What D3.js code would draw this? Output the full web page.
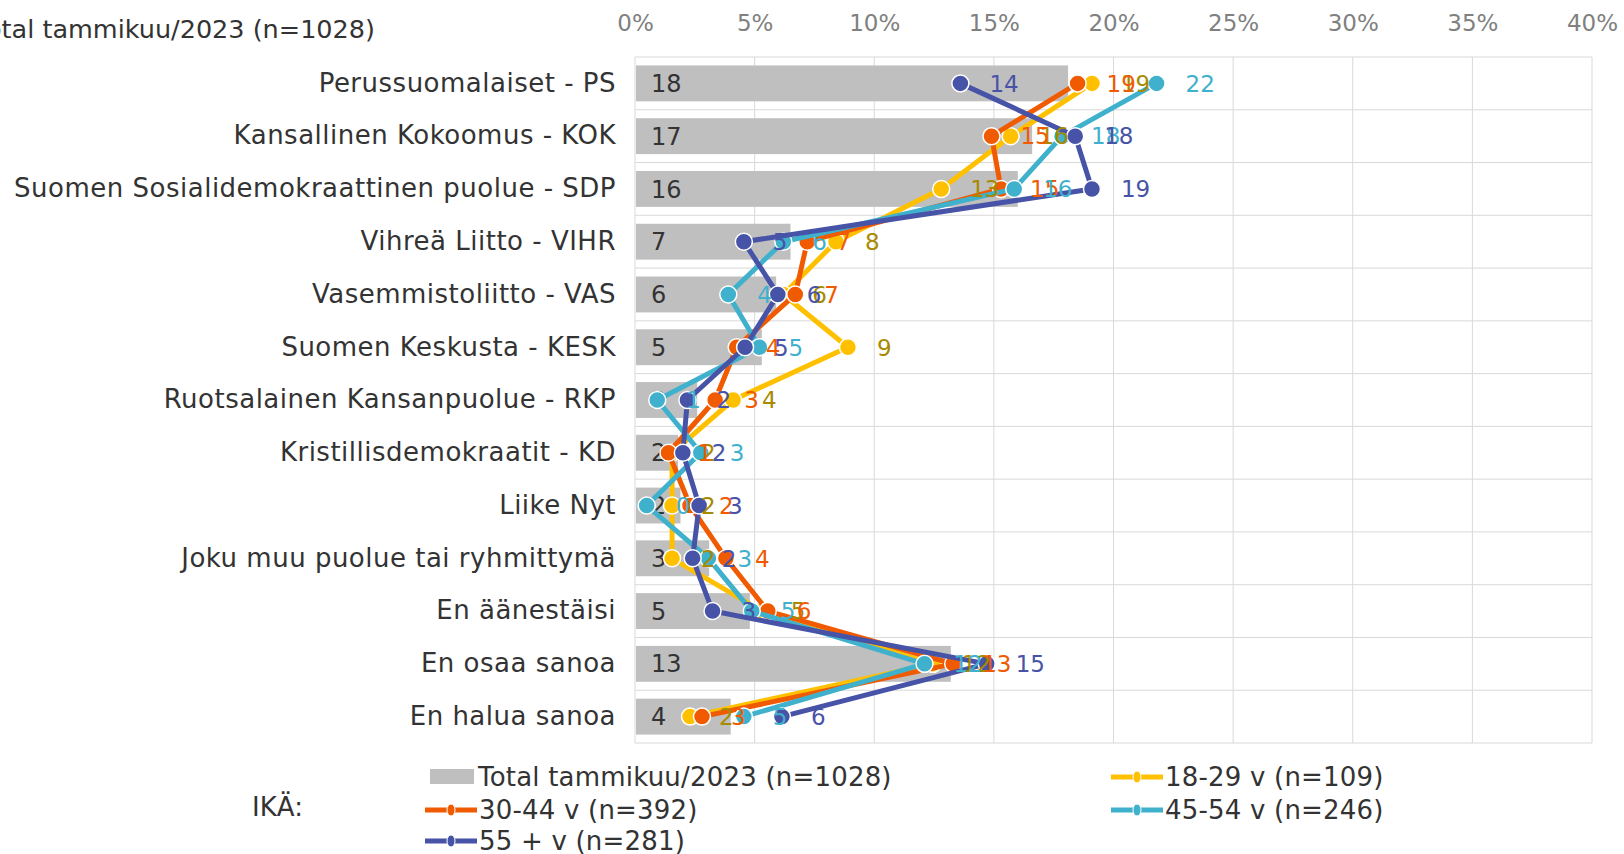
<!DOCTYPE html>
<html lang="fi">
<head>
    <meta charset="UTF-8">
    <title>Puoluekannatus iän mukaan</title>
    <style>
        body { margin: 0; background: #fff; }
        svg { display: block; font-family: "DejaVu Sans", Verdana, sans-serif; }
    </style>
    <script src="https://d3js.org/d3.v7.min.js"></script>
</head>
<body>
<script>
    // Data (percent)
    const categories = [
        "Perussuomalaiset - PS",
        "Kansallinen Kokoomus - KOK",
        "Suomen Sosialidemokraattinen puolue - SDP",
        "Vihreä Liitto - VIHR",
        "Vasemmistoliitto - VAS",
        "Suomen Keskusta - KESK",
        "Ruotsalainen Kansanpuolue - RKP",
        "Kristillisdemokraatit - KD",
        "Liike Nyt",
        "Joku muu puolue tai ryhmittymä",
        "En äänestäisi",
        "En osaa sanoa",
        "En halua sanoa"
    ];
    const total = [18.1, 16.6, 16.0, 6.5, 5.9, 5.3, 2.6, 1.8, 1.9, 3.1, 4.8, 13.2, 4.0];
    const age1829 = [19.1, 15.7, 12.8, 8.4, 6.2, 8.9, 4.1, 1.55, 1.55, 1.55, 5.3, 12.45, 2.3];
    const age3044 = [18.5, 14.9, 15.3, 7.2, 6.7, 4.25, 3.35, 1.4, 2.3, 3.8, 5.55, 13.3, 2.8];
    const age4554 = [21.8, 17.85, 15.85, 6.2, 3.9, 5.2, 0.93, 2.75, 0.49, 3.07, 4.88, 12.1, 4.55];
    const age55 = [13.6, 18.4, 19.1, 4.55, 5.97, 4.6, 2.19, 2.0, 2.68, 2.41, 3.24, 14.7, 6.14];
    const ticks = [0, 5, 10, 15, 20, 25, 30, 35, 40];

    const barName = "Total tammikuu/2023 (n=1028)";
    const series = [
        { name: "18-29 v (n=109)", values: age1829, color: "#FFC000", label: "#A88A00" },
        { name: "30-44 v (n=392)", values: age3044, color: "#F05A00", label: "#F05A00" },
        { name: "45-54 v (n=246)", values: age4554, color: "#3FB1CD", label: "#3FB1CD" },
        { name: "55 + v (n=281)", values: age55, color: "#4753A7", label: "#4753A7" }
    ];

    const width = 1624, height = 854;
    const margin = { top: 57, right: 32, bottom: 111, left: 635 };

    const svg = d3.select("body").append("svg")
        .attr("width", width)
        .attr("height", height);

    const x = d3.scaleLinear()
        .domain([0, 40])
        .range([margin.left, width - margin.right]);

    const y = d3.scaleBand()
        .domain(categories)
        .range([margin.top, height - margin.bottom]);

    // gridlines
    svg.append("g")
        .selectAll("line")
        .data(ticks)
        .enter().append("line")
        .attr("x1", d => x(d)).attr("x2", d => x(d))
        .attr("y1", margin.top).attr("y2", height - margin.bottom)
        .attr("stroke", "#D9D9D9").attr("stroke-width", 1);

    svg.append("g")
        .selectAll("line")
        .data(d3.range(categories.length + 1))
        .enter().append("line")
        .attr("x1", x(0)).attr("x2", x(40))
        .attr("y1", i => margin.top + i * y.step())
        .attr("y2", i => margin.top + i * y.step())
        .attr("stroke", "#D9D9D9").attr("stroke-width", 1);

    // top axis
    const xAxis = svg.append("g")
        .attr("transform", `translate(0,${margin.top})`)
        .call(d3.axisTop(x).tickValues(ticks).tickFormat(d => d + "%").tickSize(0).tickPadding(26));
    xAxis.select(".domain").remove();
    xAxis.selectAll("text")
        .attr("fill", "#808080")
        .attr("font-size", "23px")
        .attr("font-family", "DejaVu Sans, Verdana, sans-serif");

    // category axis
    const yAxis = svg.append("g")
        .attr("transform", `translate(${margin.left},0)`)
        .call(d3.axisLeft(y).tickSize(0).tickPadding(19));
    yAxis.select(".domain").remove();
    yAxis.selectAll("text")
        .attr("fill", "#333")
        .attr("font-size", "26px")
        .attr("letter-spacing", "0.5px")
        .attr("font-family", "DejaVu Sans, Verdana, sans-serif");

    // bars
    const barH = y.bandwidth() * 0.68;
    svg.append("g")
        .selectAll("rect")
        .data(total)
        .enter().append("rect")
        .attr("x", x(0) + 1)
        .attr("y", (d, i) => y(categories[i]) + (y.bandwidth() - barH) / 2)
        .attr("width", d => x(d) - x(0) - 1)
        .attr("height", barH)
        .attr("fill", "#BFBFBF");

    svg.append("g")
        .selectAll("text")
        .data(total)
        .enter().append("text")
        .attr("x", x(0) + 16)
        .attr("y", (d, i) => y(categories[i]) + y.bandwidth() / 2)
        .attr("dy", "0.36em")
        .attr("font-size", "24px")
        .attr("fill", "#333")
        .text(d => Math.round(d));

    const cy = i => y(categories[i]) + y.bandwidth() / 2;
    const line = d3.line()
        .x(d => x(d))
        .y((d, i) => cy(i));

    series.forEach(s => {
        const g = svg.append("g");
        g.append("path")
            .datum(s.values)
            .attr("fill", "none")
            .attr("stroke", s.color)
            .attr("stroke-width", 5)
            .attr("stroke-linejoin", "round")
            .attr("d", line);
        g.selectAll("circle")
            .data(s.values)
            .enter().append("circle")
            .attr("cx", d => x(d))
            .attr("cy", (d, i) => cy(i))
            .attr("r", 8.5)
            .attr("fill", s.color)
            .attr("stroke", "#fff")
            .attr("stroke-width", 1.5);
    });

    series.forEach(s => {
        svg.append("g")
            .selectAll("text")
            .data(s.values)
            .enter().append("text")
            .attr("x", d => x(d) + 29)
            .attr("y", (d, i) => cy(i))
            .attr("dy", "0.36em")
            .attr("font-size", "23px")
            .attr("fill", s.label)
            .text(d => Math.round(d));
    });

    // title (partly cut off at the left edge)
    svg.append("text")
        .attr("x", 375)
        .attr("y", 29)
        .attr("dy", "0.36em")
        .attr("text-anchor", "end")
        .attr("font-size", "25.5px")
        .attr("fill", "#333")
        .text("Total tammikuu/2023  (n=1028)");

    // legend
    const legend = svg.append("g")
        .attr("font-size", "26px")
        .attr("letter-spacing", "0.2px")
        .attr("fill", "#333");
    legend.append("text").attr("x", 252).attr("y", 807).attr("dy", "0.36em").text("IKÄ:");

    legend.append("rect").attr("x", 430).attr("y", 769).attr("width", 44).attr("height", 15).attr("fill", "#BFBFBF");
    legend.append("text").attr("x", 478).attr("y", 777).attr("dy", "0.36em").text(barName);

    const legendPos = [
        { x: 1111, y: 777 },
        { x: 425, y: 810 },
        { x: 1111, y: 810 },
        { x: 425, y: 841 }
    ];
    series.forEach((s, i) => {
        const p = legendPos[i];
        legend.append("line")
            .attr("x1", p.x).attr("x2", p.x + 52)
            .attr("y1", p.y).attr("y2", p.y)
            .attr("stroke", s.color).attr("stroke-width", 5);
        legend.append("ellipse")
            .attr("cx", p.x + 26).attr("cy", p.y)
            .attr("rx", 4).attr("ry", 6)
            .attr("fill", s.color).attr("stroke", "#fff").attr("stroke-width", 1);
        legend.append("text")
            .attr("x", p.x + 54).attr("y", p.y)
            .attr("dy", "0.36em")
            .text(s.name);
    });
</script>
</body>
</html>
